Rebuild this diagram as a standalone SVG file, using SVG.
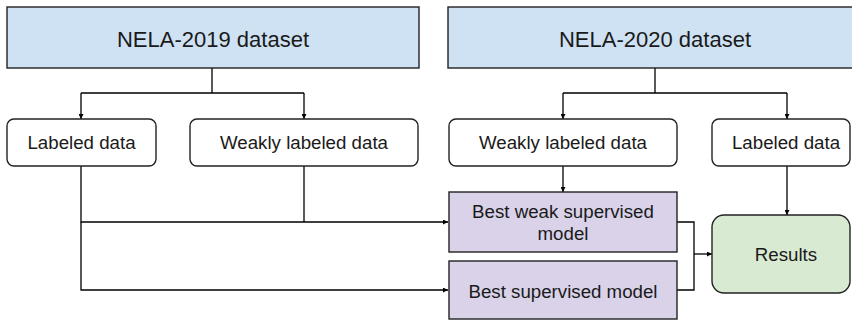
<svg xmlns="http://www.w3.org/2000/svg" width="852" height="321" viewBox="0 0 852 321">
  <defs>
    <marker id="arrow" viewBox="0 0 10 10" refX="10" refY="5" markerWidth="5" markerHeight="5" markerUnits="userSpaceOnUse" orient="auto">
      <path d="M0,0 L10,5 L0,10 z" fill="#000"/>
    </marker>
    <style>
      .box { stroke: #222; stroke-width: 1.4; }
      .dataset { fill: #cfe2f3; }
      .data { fill: #ffffff; }
      .model { fill: #d9d2e9; }
      .result { fill: #d9ead3; }
      .lbl { font-family: "Liberation Sans", Arial, sans-serif; fill: #1a1a1a; text-anchor: middle; }
      .big { font-size: 22px; }
      .small { font-size: 18.7px; }
      .link { fill: none; stroke: #000; stroke-width: 1.3; }
      .arr { marker-end: url(#arrow); }
    </style>
  </defs>

  <!-- connectors -->
  <g id="connectors">
    <!-- NELA-2019 split -->
    <path class="link" d="M212,68 V93"/>
    <path class="link arr" d="M81,93 H304 M81,93 V119"/>
    <path class="link arr" d="M304,93 V119"/>
    <!-- NELA-2020 split -->
    <path class="link" d="M655,68 V93"/>
    <path class="link arr" d="M563,93 H787 M563,93 V119"/>
    <path class="link arr" d="M787,93 V119"/>
    <!-- training inputs -->
    <path class="link" d="M304,166 V222"/>
    <path class="link arr" d="M81,166 V222 H448"/>
    <path class="link arr" d="M81,222 V290 H448"/>
    <path class="link arr" d="M563,166 V192"/>
    <!-- evaluation -->
    <path class="link arr" d="M787,166 V215"/>
    <path class="link" d="M677,222 H694 V290 H677"/>
    <path class="link arr" d="M694,254 H712"/>
  </g>

  <g id="nela2019">
    <rect class="box dataset" x="7" y="7" width="412" height="61"/>
    <text class="lbl big" x="213" y="46.5">NELA-2019 dataset</text>
  </g>
  <g id="nela2020">
    <rect class="box dataset" x="448" y="7" width="410" height="61"/>
    <text class="lbl big" x="655" y="46.5">NELA-2020 dataset</text>
  </g>

  <g id="labeled2019">
    <rect class="box data" x="7" y="119" width="149" height="47" rx="7"/>
    <text class="lbl small" x="81.5" y="149">Labeled data</text>
  </g>
  <g id="weak2019">
    <rect class="box data" x="190" y="119" width="228" height="47" rx="7"/>
    <text class="lbl small" x="304" y="149">Weakly labeled data</text>
  </g>
  <g id="weak2020">
    <rect class="box data" x="449" y="119" width="228" height="47" rx="7"/>
    <text class="lbl small" x="563" y="149">Weakly labeled data</text>
  </g>
  <g id="labeled2020">
    <rect class="box data" x="712" y="119" width="138" height="47" rx="7"/>
    <text class="lbl small" x="786" y="149">Labeled data</text>
  </g>

  <g id="bestWeak">
    <rect class="box model" x="449" y="192" width="228" height="60"/>
    <text class="lbl small" x="563" y="217.5">Best weak supervised</text>
    <text class="lbl small" x="563" y="240">model</text>
  </g>
  <g id="bestSupervised">
    <rect class="box model" x="449" y="261" width="228" height="58"/>
    <text class="lbl small" x="563" y="297.5">Best supervised model</text>
  </g>

  <g id="results">
    <rect class="box result" x="712" y="215" width="138" height="78" rx="12"/>
    <text class="lbl small" x="786" y="260.5">Results</text>
  </g>
</svg>
